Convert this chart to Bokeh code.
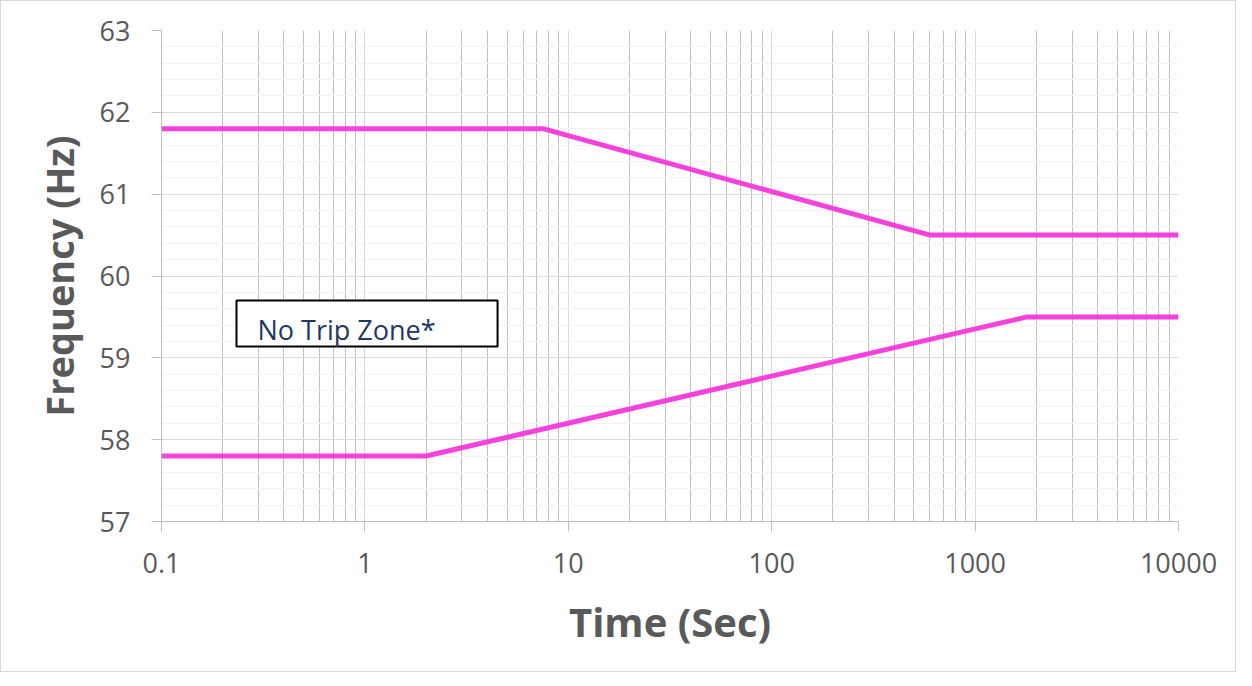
from bokeh.plotting import figure
from bokeh.models import Range1d, FixedTicker, BoxAnnotation, Label
from bokeh.embed import file_html
from bokeh.resources import INLINE

# Data
upper_time = [0.1, 7.5, 600, 10000]
upper_freq = [61.8, 61.8, 60.5, 60.5]
lower_time = [0.1, 2, 1800, 10000]
lower_freq = [57.8, 57.8, 59.5, 59.5]

x_ticks = [0.1, 1, 10, 100, 1000, 10000]
x_tick_labels = ["0.1", "1", "10", "100", "1000", "10000"]
y_ticks = [57, 58, 59, 60, 61, 62, 63]

x_minor = [m * 10.0 ** k for k in range(-1, 4) for m in range(2, 10)]
y_minor = [57 + i * 0.2 for i in range(31) if i % 5 != 0]

TEXT = "#595959"
GRID = "#d9d9d9"
FONT = "Open Sans"

p = figure(width=1236, height=672, x_axis_type="log",
           x_range=Range1d(0.1, 10000), y_range=Range1d(57, 63),
           output_backend="svg", toolbar_location=None,
           min_border_left=160, min_border_right=59,
           min_border_top=29, min_border_bottom=152)
p.outline_line_color = None
p.styles = {"border": "1px solid #d9d9d9"}

# grids
p.xaxis.ticker = FixedTicker(ticks=x_ticks, minor_ticks=x_minor)
p.yaxis.ticker = FixedTicker(ticks=y_ticks, minor_ticks=y_minor)
p.xgrid.grid_line_color = GRID
p.xgrid.minor_grid_line_color = "#bfbfbf"
p.ygrid.grid_line_color = GRID
p.ygrid.minor_grid_line_color = "#f2f2f2"

# axes
for ax in (p.xaxis[0], p.yaxis[0]):
    ax.axis_line_color = "#bfbfbf"
    ax.major_tick_line_color = "#bfbfbf"
    ax.major_tick_out = 10
    ax.major_tick_in = 0
    ax.minor_tick_line_color = None
    ax.major_label_text_font = FONT
    ax.major_label_text_font_size = "27px"
    ax.major_label_text_color = TEXT
    ax.axis_label_text_font = FONT
    ax.axis_label_text_font_style = "bold"
    ax.axis_label_text_color = TEXT

p.xaxis.axis_label_text_font_size = "40px"
p.yaxis.axis_label_text_font_size = "38px"
p.xaxis.major_label_overrides = {t: s for t, s in zip(x_ticks, x_tick_labels)}
p.xaxis.axis_label = "Time (Sec)"
p.yaxis.axis_label = "Frequency (Hz)"
p.xaxis.major_label_standoff = 21
p.yaxis.major_label_standoff = 21
p.xaxis.axis_label_standoff = 18
p.yaxis.axis_label_standoff = 12

LINE = "#f542dc"
p.line(upper_time, upper_freq, line_color=LINE, line_width=5)
p.line(lower_time, lower_freq, line_color=LINE, line_width=5)

box = BoxAnnotation(left=0.2337, right=4.49, bottom=59.137, top=59.70,
                    fill_color="white", fill_alpha=1.0,
                    line_color="black", line_alpha=1.0, line_width=2)
p.add_layout(box)
p.add_layout(Label(x=0.2963, y=59.35, text="No Trip Zone*",
                   text_font=FONT, text_font_size="27px",
                   text_color="#203864", text_baseline="middle"))

open("out.html", "w").write(file_html(p, INLINE))
